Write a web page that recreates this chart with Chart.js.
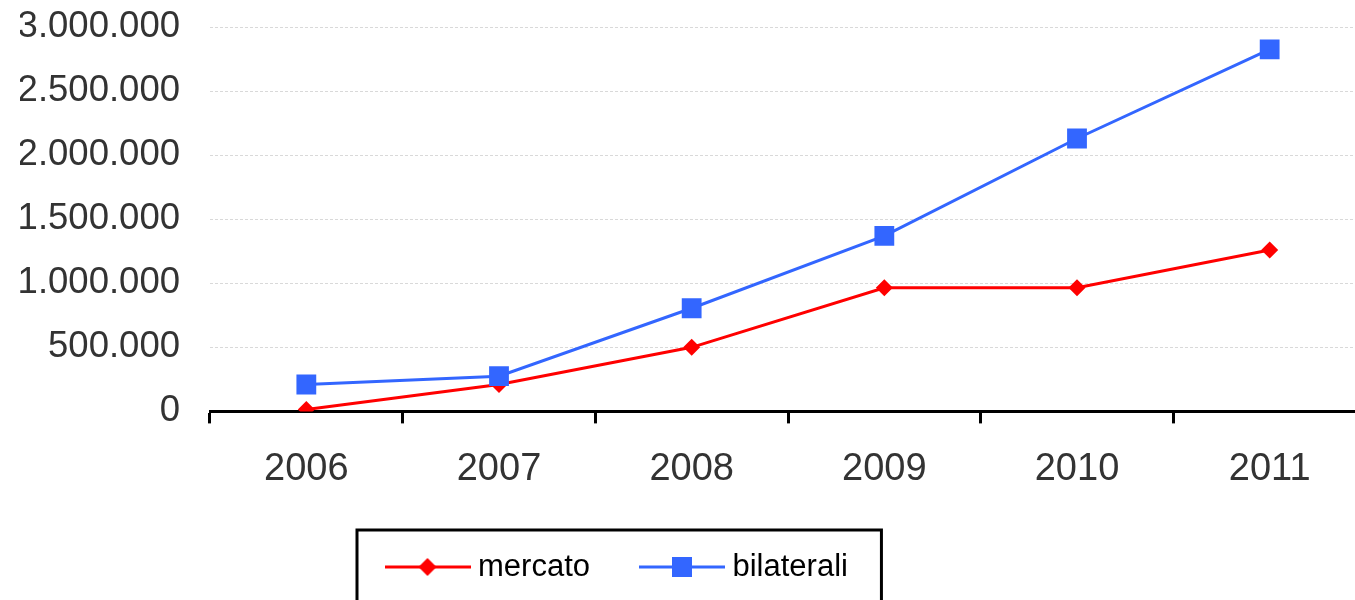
<!DOCTYPE html>
<html>
<head>
<meta charset="utf-8">
<script src="https://cdn.jsdelivr.net/npm/chart.js@4"></script>
<style>
    html, body { margin: 0; padding: 0; background: #fff; overflow: hidden; }
    #wrap { width: 1380px; height: 600px; }
</style>
</head>
<body>
<div id="wrap"><canvas id="myChart" width="1380" height="600"></canvas></div>
<script>
// Data
const years = ['2006', '2007', '2008', '2009', '2010', '2011'];
const mercato = [15000, 210000, 500000, 965000, 965000, 1260000];
const bilaterali = [210000, 275000, 805000, 1370000, 2130000, 2825000];
const seriesNames = ['mercato', 'bilaterali'];
const seriesColors = ['#ff0000', '#3366ff'];
const yMin = 0, yMax = 3000000, yStep = 500000;

Chart.defaults.font.family = "'Liberation Sans', Arial, sans-serif";

// thousands separator with dots (it-IT style)
function fmt(v) {
    return String(v).replace(/\B(?=(\d{3})+(?!\d))/g, '.');
}

// legend symbol: line with marker in the middle
function legendIcon(color, shape) {
    const c = document.createElement('canvas');
    c.width = 86;
    c.height = 24;
    const g = c.getContext('2d');
    g.strokeStyle = color;
    g.lineWidth = 3;
    g.beginPath();
    g.moveTo(0, 12);
    g.lineTo(86, 12);
    g.stroke();
    g.fillStyle = color;
    if (shape === 'diamond') {
        g.beginPath();
        g.moveTo(43, 3);
        g.lineTo(52, 12);
        g.lineTo(43, 21);
        g.lineTo(34, 12);
        g.closePath();
        g.fill();
    } else {
        g.fillRect(33, 2, 20, 20);
    }
    return c;
}
const icons = [legendIcon(seriesColors[0], 'diamond'), legendIcon(seriesColors[1], 'square')];

// move the legend to where it sits in the original and frame it
const legendBox = {
    id: 'legendBox',
    afterLayout(chart) {
        const lg = chart.legend;
        const w = lg.width, h = lg.height;
        lg.left = 335.5;
        lg.right = lg.left + w;
        lg.top = 494.5;
        lg.bottom = lg.top + h;
    },
    afterDraw(chart) {
        const boxes = chart.legend.legendHitBoxes;
        if (!boxes || !boxes.length) return;
        const first = boxes[0], last = boxes[boxes.length - 1];
        const ctx = chart.ctx;
        const x1 = first.left - 35.5;
        const x2 = last.left + last.width + 33.5;
        const y1 = first.top - 21.5;
        ctx.save();
        ctx.strokeStyle = '#000';
        ctx.lineWidth = 3;
        ctx.strokeRect(x1, y1, x2 - x1, 650 - y1);
        ctx.restore();
    }
};

const ctx = document.getElementById('myChart').getContext('2d');
const chart = new Chart(ctx, {
    type: 'line',
    data: {
        labels: years,
        datasets: [{
            label: seriesNames[0],
            data: mercato,
            borderColor: seriesColors[0],
            backgroundColor: seriesColors[0],
            borderWidth: 3,
            pointStyle: 'rectRot',
            pointRadius: 8.5,
            pointHoverRadius: 8.5,
            pointBorderWidth: 0,
            tension: 0,
            order: 1
        }, {
            label: seriesNames[1],
            data: bilaterali,
            borderColor: seriesColors[1],
            backgroundColor: seriesColors[1],
            borderWidth: 3,
            pointStyle: 'rect',
            pointRadius: 14,
            pointHoverRadius: 14,
            pointBorderWidth: 0,
            tension: 0,
            order: 0
        }]
    },
    options: {
        responsive: false,
        animation: false,
        layout: { padding: { top: 27, left: 20, right: 14, bottom: 0 } },
        plugins: {
            tooltip: { enabled: false },
            legend: {
                position: 'bottom',
                align: 'start',
                maxHeight: 85,
                labels: {
                    usePointStyle: true,
                    pointStyleWidth: 70,
                    boxHeight: 31,
                    padding: 57,
                    color: '#000',
                    font: { size: 31 },
                    generateLabels: c => c.data.datasets.map((ds, i) => ({
                        text: ds.label,
                        fillStyle: ds.borderColor,
                        strokeStyle: ds.borderColor,
                        lineWidth: 0,
                        pointStyle: icons[i],
                        hidden: false,
                        datasetIndex: i,
                        fontColor: '#000'
                    }))
                }
            }
        },
        scales: {
            x: {
                offset: true,
                afterFit: s => { s.paddingLeft = 0; s.paddingRight = 0; },
                grid: {
                    offset: true,
                    drawOnChartArea: false,
                    drawTicks: true,
                    tickLength: 12,
                    tickWidth: 3,
                    tickColor: '#000'
                },
                border: { display: true, color: '#000', width: 3 },
                ticks: { color: '#333', font: { size: 38 }, padding: 23 }
            },
            y: {
                min: yMin,
                max: yMax,
                afterFit: s => { s.width = 190; s.paddingTop = 0; s.paddingBottom = 0; },
                grid: { color: '#d9d9d9', lineWidth: 1, drawTicks: false },
                border: { display: false, dash: [3, 2] },
                ticks: {
                    stepSize: yStep,
                    color: '#333',
                    font: { size: 36.5 },
                    padding: 30,
                    callback: v => fmt(v)
                }
            }
        }
    },
    plugins: [legendBox]
});
</script>
</body>
</html>
